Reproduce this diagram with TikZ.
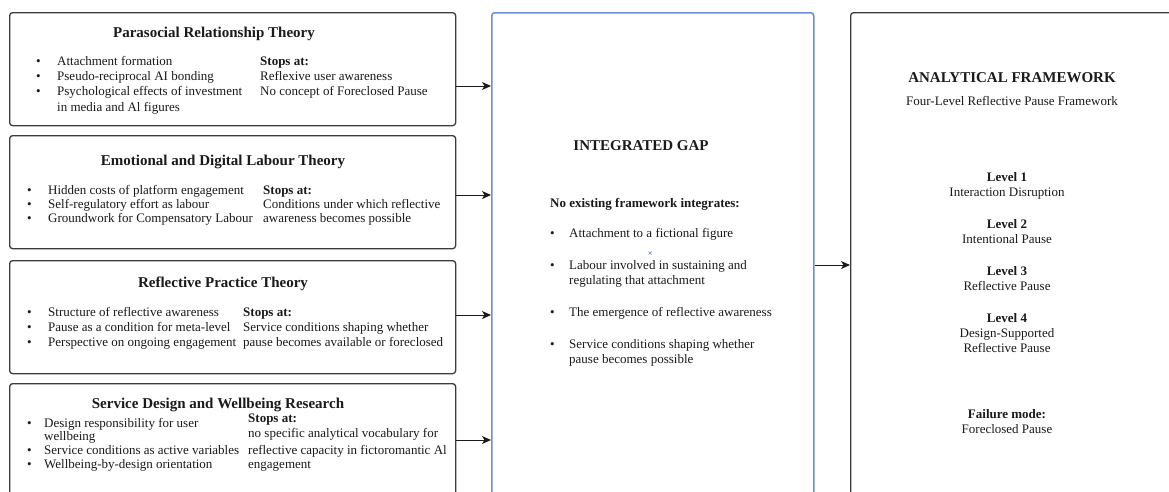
\documentclass[tikz,border=0pt]{standalone}
\usepackage{fontspec}
\setmainfont{Liberation Serif}
\usetikzlibrary{arrows.meta,calc}
\definecolor{ink}{HTML}{1A1A1A}
\definecolor{edge}{HTML}{3C3C3C}
\definecolor{blueedge}{HTML}{6A8FD6}
\newcounter{tlc}
\newcommand\txtline[4][base west]{\stepcounter{tlc}\node[txt,anchor=#1] (tl\thetlc) at (#2,#3) {#4};}
\newcommand\ttlline[3]{\stepcounter{tlc}\node[ttl,anchor=base] (tl\thetlc) at (#1,#2) {#3};}
\newcommand\bul[2]{\stepcounter{tlc}\node[txt,anchor=base west] (tl\thetlc) at (#1,#2) {\textbullet};}
\tikzset{
  txt/.style={inner sep=0pt, text=ink, font=\fontsize{13}{15}\selectfont},
  ttl/.style={inner sep=0pt, text=ink, font=\fontsize{15}{18}\selectfont\bfseries},
  panel/.style={draw=edge, line width=1.3pt, rounded corners=3pt, anchor=north west, inner sep=0pt},
  bluepanel/.style={panel, draw=blueedge, line width=1.5pt},
  arr/.style={draw=ink, line width=1pt, -{Stealth[length=9pt,width=8pt,inset=2.5pt]}}
}
\begin{document}
\begin{tikzpicture}[x=1pt,y=-1pt]
\useasboundingbox (0,0) rectangle (1169,491);
\clip (0,0) rectangle (1169,491);
\fill[white] (0,0) rectangle (1169,491);
% panels
\node[panel, minimum width=446pt, minimum height=113pt] (b1) at (9,12) {};
\node[panel, minimum width=446pt, minimum height=113pt] (b2) at (9,135) {};
\node[panel, minimum width=446pt, minimum height=113pt] (b3) at (9,260) {};
\node[panel, minimum width=446pt, minimum height=160pt] (b4) at (9,383) {};
\node[bluepanel, minimum width=322pt, minimum height=520pt] (mid) at (491,12) {};
\node[panel, minimum width=400pt, minimum height=520pt] (fw) at (850,12) {};
% box 1
\ttlline{214}{37}{Parasocial Relationship Theory}
\bul{36}{65}\txtline{57}{65}{Attachment formation}
\bul{36}{80}\txtline{57}{80}{Pseudo-reciprocal AI bonding}
\bul{36}{95}\txtline{57}{95}{Psychological effects of investment}
\txtline{57}{111}{in media and Al figures}
\txtline{260}{65}{\bfseries Stops at:}
\txtline{260}{80}{Reflexive user awareness}
\txtline{260}{95}{No concept of Foreclosed Pause}
% box 2
\ttlline{223}{165}{Emotional and Digital Labour Theory}
\bul{27}{194}\txtline{48}{194}{Hidden costs of platform engagement}
\bul{27}{208}\txtline{48}{208}{Self-regulatory effort as labour}
\bul{27}{222}\txtline{48}{222}{Groundwork for Compensatory Labour}
\txtline{263}{194}{\bfseries Stops at:}
\txtline{263}{208}{Conditions under which reflective}
\txtline{263}{222}{awareness becomes possible}
% box 3
\ttlline{223}{287}{Reflective Practice Theory}
\bul{27}{316}\txtline{48}{316}{Structure of reflective awareness}
\bul{27}{331}\txtline{48}{331}{Pause as a condition for meta-level}
\bul{27}{346}\txtline{48}{346}{Perspective on ongoing engagement}
\txtline{243}{316}{\bfseries Stops at:}
\txtline{243}{331}{Service conditions shaping whether}
\txtline{243}{346}{pause becomes available or foreclosed}
% box 4
\ttlline{218}{408}{Service Design and Wellbeing Research}
\bul{27}{427}\txtline{44}{427}{Design responsibility for user}
\txtline{44}{440}{wellbeing}
\bul{27}{454}\txtline{44}{454}{Service conditions as active variables}
\bul{27}{468}\txtline{44}{468}{Wellbeing-by-design orientation}
\txtline{248}{422}{\bfseries Stops at:}
\txtline{248}{437}{no specific analytical vocabulary for}
\txtline{248}{454}{reflective capacity in fictoromantic Al}
\txtline{248}{468}{engagement}
% middle
\ttlline{641}{150}{INTEGRATED GAP}
\txtline{550}{207}{\bfseries No existing framework integrates:}
\bul{550}{237}\txtline{569}{237}{Attachment to a fictional figure}
\bul{550}{269}\txtline{569}{269}{Labour involved in sustaining and}
\txtline{569}{284}{regulating that attachment}
\bul{550}{316}\txtline{569}{316}{The emergence of reflective awareness}
\bul{550}{348}\txtline{569}{348}{Service conditions shaping whether}
\txtline{569}{363}{pause becomes possible}
\draw[blueedge, line width=0.7pt] (648.5,251.5) -- (651.5,254.5) (648.5,254.5) -- (651.5,251.5);
% right
\ttlline{1012}{82}{ANALYTICAL FRAMEWORK}
\txtline[base]{1012}{105}{Four-Level Reflective Pause Framework}
\txtline[base]{1007}{181}{\bfseries Level 1}
\txtline[base]{1007}{196}{Interaction Disruption}
\txtline[base]{1007}{228}{\bfseries Level 2}
\txtline[base]{1007}{243}{Intentional Pause}
\txtline[base]{1007}{275}{\bfseries Level 3}
\txtline[base]{1007}{290}{Reflective Pause}
\txtline[base]{1007}{322}{\bfseries Level 4}
\txtline[base]{1007}{337}{Design-Supported}
\txtline[base]{1007}{352}{Reflective Pause}
\txtline[base]{1007}{418}{\bfseries Failure mode:}
\txtline[base]{1007}{433}{Foreclosed Pause}
% connectors
\path (b1.north east) ++(0,74) coordinate (s1);
\path (b2.north east) ++(0,60) coordinate (s2);
\path (b3.north east) ++(0,55) coordinate (s3);
\path (b4.north east) ++(0,57) coordinate (s4);
\path (mid.north east) ++(0,253) coordinate (s5);
\draw[arr] (s1) -- (s1 -| mid.west);
\draw[arr] (s2) -- (s2 -| mid.west);
\draw[arr] (s3) -- (s3 -| mid.west);
\draw[arr] (s4) -- (s4 -| mid.west);
\draw[arr] (s5) -- (s5 -| fw.west);
\end{tikzpicture}
\end{document}
